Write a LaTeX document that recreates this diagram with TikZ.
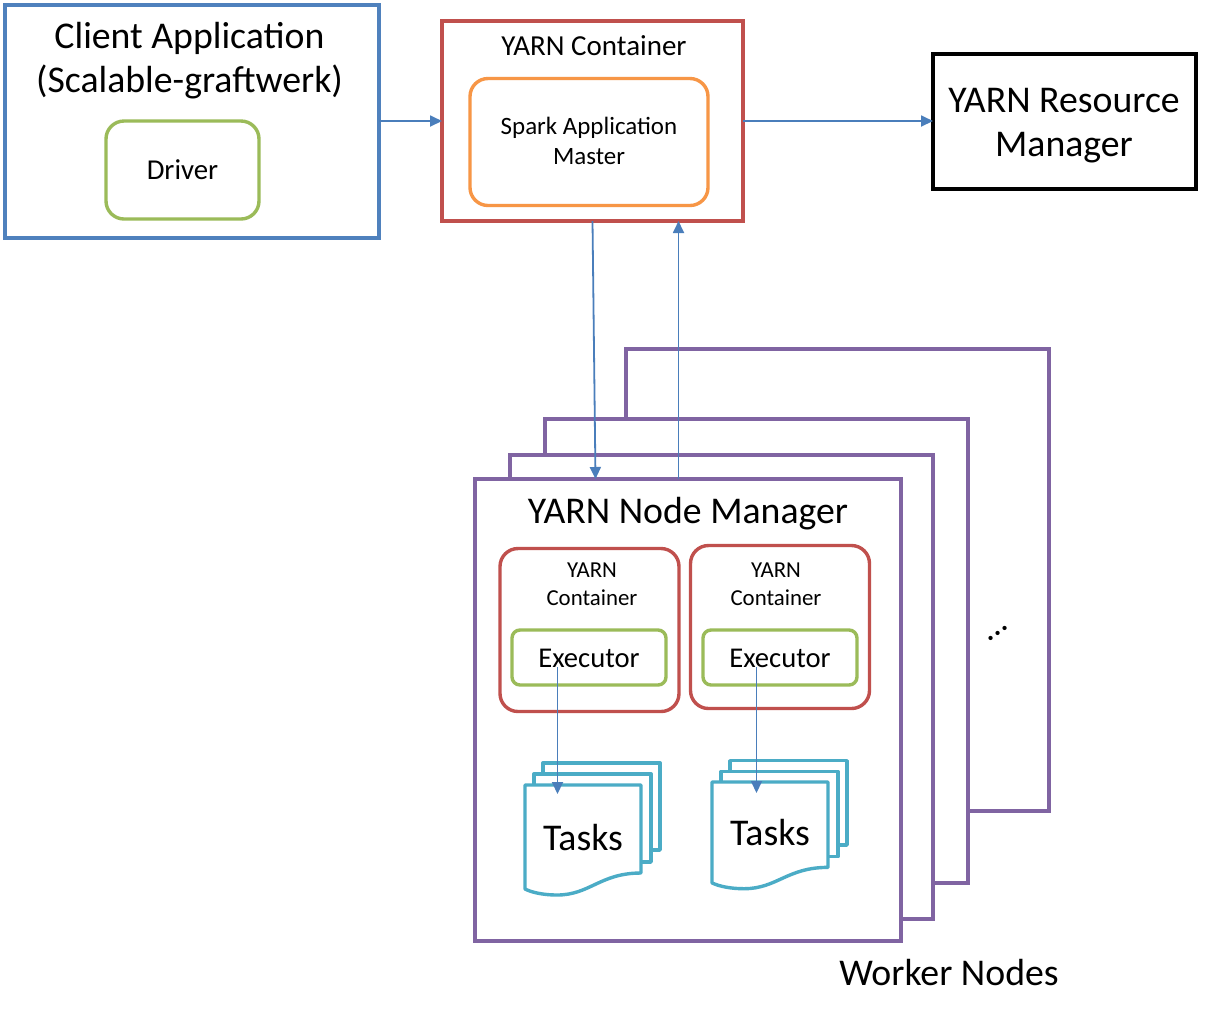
\documentclass[tikz,border=0pt]{standalone}
\usepackage{fontspec}
\setmainfont{Carlito}
\usepackage{xcolor}
\definecolor{clientblue}{HTML}{4F81BD}
\definecolor{flowblue}{HTML}{4A7EBB}
\definecolor{yarnred}{HTML}{C0504D}
\definecolor{masterorange}{HTML}{F79646}
\definecolor{execgreen}{HTML}{9BBB59}
\definecolor{workerpurple}{HTML}{8064A2}
\definecolor{taskteal}{HTML}{4BACC6}
\usetikzlibrary{arrows.meta}
\def\px{0.02cm}
\tikzset{
  box/.style={rectangle,draw,fill=white,line width=3.4*\px,inner sep=0pt,outer sep=0pt},
  rbox/.style={box,rounded corners=18*\px},
  title/.style={font=\fontsize{21.5pt}{25pt}\selectfont,align=center,inner sep=0pt},
  small/.style={font=\fontsize{13pt}{16pt}\selectfont,align=center,inner sep=0pt},
  flow/.style={draw=flowblue,line width=1.8*\px,-{Triangle[length=12*\px,width=11*\px]}},
  sheet/.style={draw=taskteal,fill=white,line width=3.4*\px,line join=round},
  taskdoc/.pic={
    \path[sheet] (18,-22) rectangle (135,65);
    \path[sheet] (9,-11) rectangle (126,77);
    \path[sheet] (0,0) -- (116,0) -- (116,88)
      .. controls (75,88) and (65,110) .. (32,110) .. controls (20,110) and (8,108) .. (0,104) -- cycle;
  }
}
\begin{document}
\begin{tikzpicture}[x=\px,y=-\px]
  \useasboundingbox (0,0) rectangle (1210,1019);
  % client side
  \node[box,draw=clientblue,minimum width=374*\px,minimum height=233*\px] (client) at (192,121.5) {};
  \node[title] (clienttext) at (189.5,61) {Client Application\\(Scalable-graftwerk)};
  \node[rbox,draw=execgreen,minimum width=153*\px,minimum height=98*\px] (driver) at (182.5,170) {\fontsize{16.4pt}{18pt}\selectfont Driver};
  % application master
  \node[box,draw=yarnred,minimum width=301*\px,minimum height=200*\px] (amc) at (592.5,121) {};
  \node[small,font=\fontsize{16.5pt}{19pt}\selectfont] (amctext) at (594,46) {YARN Container};
  \node[rbox,draw=masterorange,minimum width=238*\px,minimum height=127*\px] (am) at (589,142) {};
  \node[small,font=\fontsize{14.2pt}{17pt}\selectfont] (amtext) at (589,141) {Spark Application\\Master};
  % resource manager
  \node[box,draw=black,minimum width=263*\px,minimum height=135*\px] (rm) at (1064.5,121.5) {};
  \node[title] (rmtext) at (1064,126) {YARN Resource\\Manager};
  % worker nodes, back to front
  \node[box,draw=workerpurple,minimum width=423*\px,minimum height=462*\px] (workerc) at (837.5,580) {};
  \node[box,draw=workerpurple,minimum width=423*\px,minimum height=464*\px] (workerb) at (756.5,651) {};
  \node[box,draw=workerpurple,minimum width=423*\px,minimum height=464*\px] (workera) at (721.5,687) {};
  \node[box,draw=workerpurple,minimum width=426*\px,minimum height=462*\px] (nm) at (688,710) {};
  \node[title] (nmtext) at (688,514) {YARN Node Manager};
  \node[title] (workertext) at (949,973) {Worker Nodes};
  \node[inner sep=0pt,font=\fontsize{20pt}{20pt}\selectfont,rotate=35] (more) at (998,633) {...};
  % containers
  \node[rbox,draw=yarnred,minimum width=179*\px,minimum height=163*\px] (conta) at (589.5,630) {};
  \node[rbox,draw=yarnred,minimum width=179*\px,minimum height=163*\px] (contb) at (780,627) {};
  \node[small] (contatext) at (592,584) {YARN\\Container};
  \node[small] (contbtext) at (776,584) {YARN\\Container};
  \node[box,rounded corners=8*\px,draw=execgreen,minimum width=154*\px,minimum height=55*\px] (execa) at (589,657.5) {};
  \node[box,rounded corners=8*\px,draw=execgreen,minimum width=154*\px,minimum height=55*\px] (execb) at (780,657.5) {};
  \node[small,font=\fontsize{16.3pt}{18pt}\selectfont] (execatext) at (589,658) {Executor};
  \node[small,font=\fontsize{16.3pt}{18pt}\selectfont] (execbtext) at (780,658) {Executor};
  % tasks
  \pic at (525,785) {taskdoc};
  \pic[yscale=0.97] at (712,782) {taskdoc};
  \node[title] (tasksa) at (583,838) {Tasks};
  \node[title] (tasksb) at (770,833) {Tasks};
  % connector ends
  \coordinate (amout) at (592.5,221);
  \coordinate (nmin) at (595.5,479);
  \coordinate (nmout) at (678.5,479);
  \coordinate (amin) at (678.5,221);
  \coordinate (execaout) at (557.5,667);
  \coordinate (tasksain) at (557.5,794);
  \coordinate (execbout) at (756.5,667);
  \coordinate (tasksbin) at (756.5,793);
  \draw[flow] (client.east |- 0,121) -- (amc.west |- 0,121);
  \draw[flow] (amc.east |- 0,121) -- (rm.west |- 0,121);
  \draw[flow] (amout) -- (nmin);
  \draw[flow] (nmout) -- (amin);
  \draw[flow] (execaout) -- (tasksain);
  \draw[flow] (execbout) -- (tasksbin);
\end{tikzpicture}
\end{document}
